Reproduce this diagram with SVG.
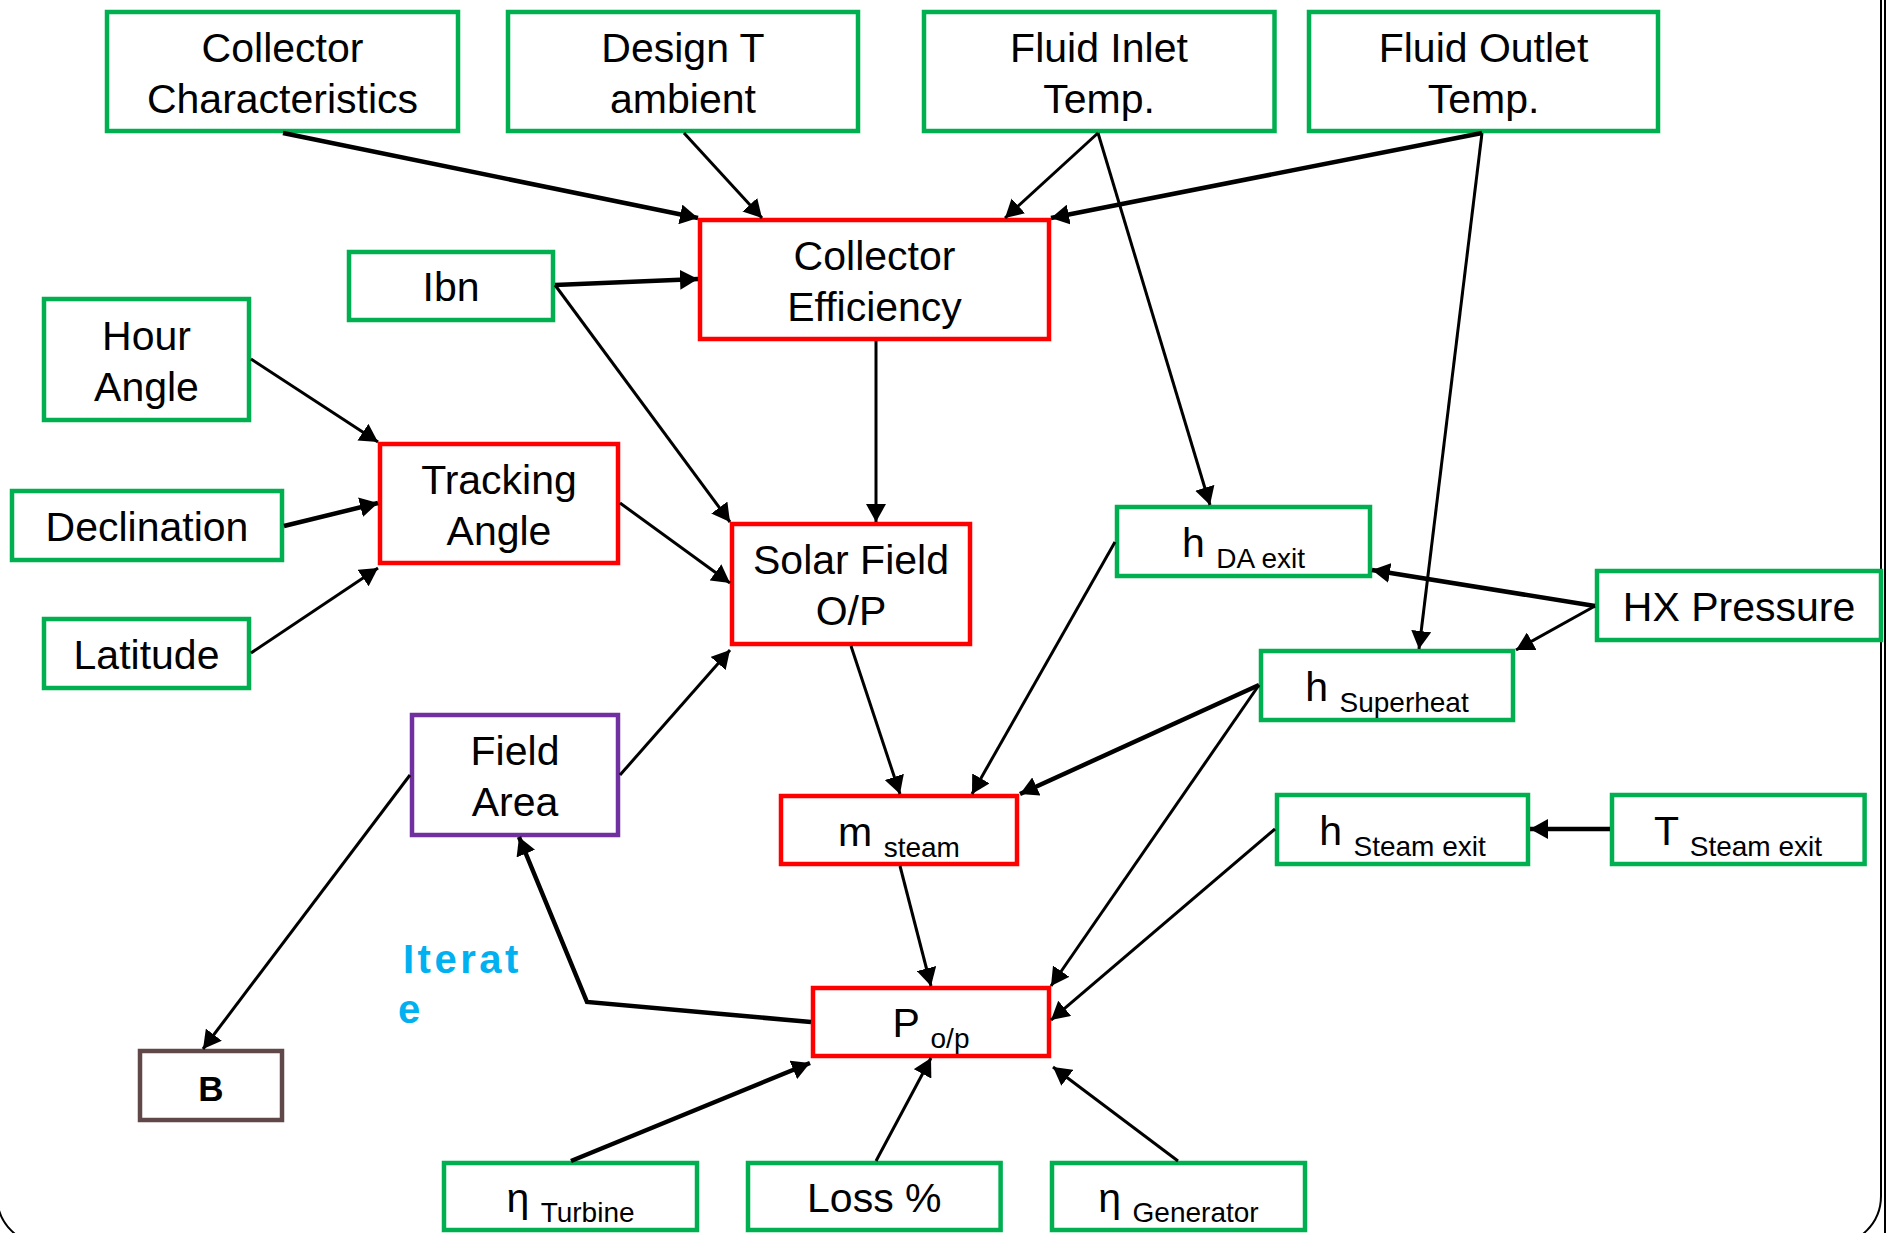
<svg xmlns="http://www.w3.org/2000/svg" width="1887" height="1233" viewBox="0 0 1887 1233">
<style>
.g{fill:#fff;stroke:#00B050;stroke-width:4.5}
.r{fill:#fff;stroke:#FF0000;stroke-width:4.5}
.p{fill:#fff;stroke:#7030A0;stroke-width:4.5}
.b{fill:#fff;stroke:#604848;stroke-width:4.5}
.t{font-family:"Liberation Sans",Arial,sans-serif;font-size:41px;fill:#000;text-anchor:middle}
.s{font-size:28px}
.c{fill:none;stroke:#000;stroke-width:3;marker-end:url(#ah)}
.k{stroke-width:4.5}
</style>
<defs>
<marker id="ah" viewBox="0 0 18 20" refX="18" refY="10" markerWidth="18" markerHeight="20" markerUnits="userSpaceOnUse" orient="auto">
<path d="M0,0 L18,10 L0,20 z" fill="#000"/>
</marker>
</defs>
<rect x="-3" y="-100" width="1884" height="1345" rx="49" fill="none" stroke="#000" stroke-width="2"/>
<line x1="1885" y1="0" x2="1885" y2="1233" stroke="#000" stroke-width="2"/>

<g id="collector-characteristics"><rect class="g" x="107" y="12" width="351" height="119"/><text class="t" x="282.5" y="61.5">Collector</text><text class="t" x="282.5" y="112.5">Characteristics</text></g>
<g id="design-t-ambient"><rect class="g" x="508" y="12" width="350" height="119"/><text class="t" x="683" y="61.5">Design T</text><text class="t" x="683" y="112.5">ambient</text></g>
<g id="fluid-inlet-temp"><rect class="g" x="924" y="12" width="350.5" height="119"/><text class="t" x="1099" y="61.5">Fluid Inlet</text><text class="t" x="1099" y="112.5">Temp.</text></g>
<g id="fluid-outlet-temp"><rect class="g" x="1309" y="12" width="349" height="119"/><text class="t" x="1483.5" y="61.5">Fluid Outlet</text><text class="t" x="1483.5" y="112.5">Temp.</text></g>
<g id="collector-efficiency"><rect class="r" x="700" y="220" width="349" height="119"/><text class="t" x="874.5" y="269.5">Collector</text><text class="t" x="874.5" y="320.5">Efficiency</text></g>
<g id="ibn"><rect class="g" x="349" y="252" width="204" height="68"/><text class="t" x="451" y="301">Ibn</text></g>
<g id="hour-angle"><rect class="g" x="44" y="299" width="205" height="121"/><text class="t" x="146.5" y="349.5">Hour</text><text class="t" x="146.5" y="400.5">Angle</text></g>
<g id="tracking-angle"><rect class="r" x="380" y="444" width="238" height="119"/><text class="t" x="499" y="493.5">Tracking</text><text class="t" x="499" y="544.5">Angle</text></g>
<g id="declination"><rect class="g" x="12" y="491" width="270" height="69"/><text class="t" x="147" y="541">Declination</text></g>
<g id="latitude"><rect class="g" x="44" y="619" width="205" height="69"/><text class="t" x="146.5" y="669">Latitude</text></g>
<g id="solar-field-op"><rect class="r" x="732" y="524" width="238" height="120"/><text class="t" x="851" y="574">Solar Field</text><text class="t" x="851" y="625">O/P</text></g>
<g id="field-area"><rect class="p" x="412" y="715" width="206" height="120"/><text class="t" x="515" y="765">Field</text><text class="t" x="515" y="816">Area</text></g>
<g id="h-da-exit"><rect class="g" x="1117" y="507" width="253" height="69"/><text class="t" x="1243.5" y="557">h <tspan class="s" dy="11">DA exit</tspan></text></g>
<g id="hx-pressure"><rect class="g" x="1597" y="571" width="284" height="69"/><text class="t" x="1739" y="621">HX Pressure</text></g>
<g id="h-superheat"><rect class="g" x="1261" y="651" width="252" height="69"/><text class="t" x="1387" y="701">h <tspan class="s" dy="11">Superheat</tspan></text></g>
<g id="m-steam"><rect class="r" x="781" y="796" width="236" height="68"/><text class="t" x="899" y="846">m <tspan class="s" dy="11">steam</tspan></text></g>
<g id="h-steam-exit"><rect class="g" x="1277" y="795" width="251" height="69"/><text class="t" x="1402.5" y="845">h <tspan class="s" dy="11">Steam exit</tspan></text></g>
<g id="t-steam-exit"><rect class="g" x="1612" y="795" width="252.6" height="69"/><text class="t" x="1738" y="845">T <tspan class="s" dy="11">Steam exit</tspan></text></g>
<g id="p-op"><rect class="r" x="813" y="988" width="236" height="68"/><text class="t" x="931" y="1037">P <tspan class="s" dy="11">o/p</tspan></text></g>
<g id="b"><rect class="b" x="140" y="1051" width="142" height="69"/><text x="211" y="1101" font-family="Liberation Sans,Arial,sans-serif" font-size="35" font-weight="bold" text-anchor="middle">B</text></g>
<g id="eta-turbine"><rect class="g" x="444" y="1163" width="253" height="67"/><text class="t" x="570.5" y="1212">η <tspan class="s" dy="10">Turbine</tspan></text></g>
<g id="loss"><rect class="g" x="748" y="1163" width="252.6" height="67"/><text class="t" x="874.3" y="1212">Loss %</text></g>
<g id="eta-generator"><rect class="g" x="1052" y="1163" width="253" height="67"/><text class="t" x="1178.5" y="1212">η <tspan class="s" dy="10">Generator</tspan></text></g>
<g id="iterate-label" font-family="Liberation Sans,Arial,sans-serif" font-size="40" font-weight="bold" fill="#00B0F0" letter-spacing="3.5"><text x="403" y="973">Iterat</text><text x="398" y="1023">e</text></g>

<g id="connectors">
<path class="c k" d="M283,133 L698,218"/>
<path class="c" d="M684,133 L762,218"/>
<path class="c k" d="M555,285 L698,279"/>
<path class="c" d="M555,285 L730,522"/>
<path class="c" d="M876,341 L876,522"/>
<path class="c" d="M1098,133 L1005,218"/>
<path class="c k" d="M1482,133 L1051,218"/>
<path class="c" d="M1098,133 L1210,505"/>
<path class="c" d="M1482,133 L1419,649"/>
<path class="c" d="M251,359 L378,442"/>
<path class="c k" d="M284,526 L378,503"/>
<path class="c" d="M251,653 L378,568"/>
<path class="c" d="M620,503 L730,583"/>
<path class="c" d="M620,775 L730,650"/>
<path class="c" d="M410,775 L203,1049"/>
<path class="c" d="M851,646 L900,794"/>
<path class="c" d="M1115,542 L972,794"/>
<path class="c k" d="M1259,685 L1020,794"/>
<path class="c" d="M1259,685 L1051,986"/>
<path class="c" d="M1275,829 L1051,1020"/>
<path class="c k" d="M1610,829 L1530,829"/>
<path class="c k" d="M1595,606 L1372,570"/>
<path class="c" d="M1595,606 L1516,650"/>
<path class="c" d="M900,866 L931,986"/>
<path class="c k" d="M811,1022 L587,1002 L519,837"/>
<path class="c k" d="M571,1161 L810,1063"/>
<path class="c" d="M876,1161 L931,1058"/>
<path class="c" d="M1178,1161 L1053,1067"/>
</g>
</svg>
